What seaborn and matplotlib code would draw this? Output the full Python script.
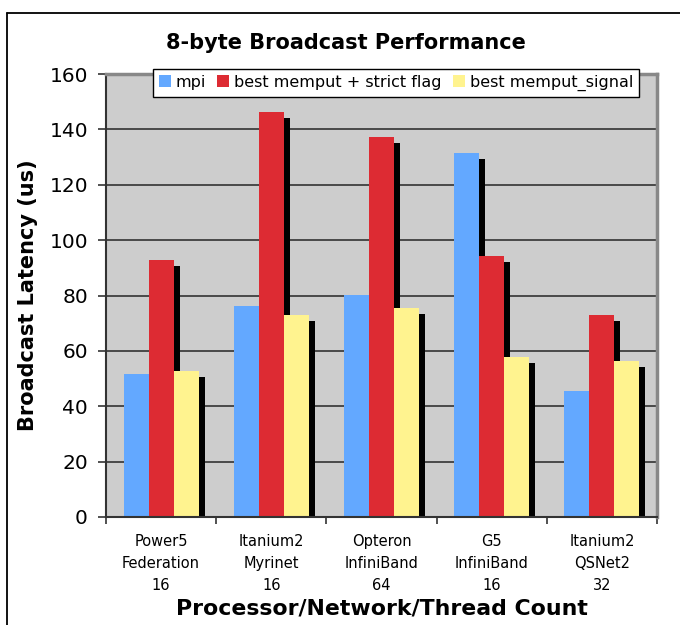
import matplotlib
matplotlib.use("Agg")
import matplotlib.pyplot as plt
import matplotlib.patheffects as pe
from matplotlib.lines import Line2D
from matplotlib.ticker import FixedLocator, MultipleLocator
import pandas as pd
import seaborn as sns

# Platforms (processor / network / thread count)
categories = [
    "Power5\nFederation\n16",
    "Itanium2\nMyrinet\n16",
    "Opteron\nInfiniBand\n64",
    "G5\nInfiniBand\n16",
    "Itanium2\nQSNet2\n32",
]
series = ["mpi", "best memput + strict flag", "best memput_signal"]

# Broadcast latency in microseconds
mpi = [51.6, 76.2, 80.1, 131.4, 45.5]
memput_strict = [92.8, 146.2, 137.2, 94.2, 72.9]
memput_signal = [52.7, 72.9, 75.5, 57.8, 56.3]

y_ticks = [0, 20, 40, 60, 80, 100, 120, 140, 160]

colors = ["#63A8FF", "#DD2B33", "#FFF38F"]

df = pd.DataFrame({
    "platform": categories * 3,
    "series": [s for s in series for _ in categories],
    "latency": mpi + memput_strict + memput_signal,
})

sns.set_theme(style="white")
plt.rcParams["font.family"] = ["DejaVu Sans"]
plt.rcParams["text.color"] = "black"
plt.rcParams["xtick.color"] = "black"
plt.rcParams["ytick.color"] = "black"
plt.rcParams["axes.labelcolor"] = "black"

fig = plt.figure(figsize=(6.8, 6.25), dpi=100)
ax = fig.add_axes([106 / 680, 1 - 517 / 625, 551 / 680, 443 / 625])
ax.set_facecolor("#CDCDCD")

sns.barplot(
    data=df, x="platform", y="latency", hue="series", order=categories,
    hue_order=series, palette=colors, saturation=1, width=0.68,
    linewidth=0, ax=ax, legend=True, errorbar=None,
)

leg = ax.legend(
    loc="center", bbox_to_anchor=(396 / 680, 1 - 83 / 625),
    bbox_transform=fig.transFigure, ncol=3, frameon=True, fancybox=False,
    fontsize=11.5, handlelength=0.75, handleheight=0.75, handletextpad=0.3,
    columnspacing=0.7, borderpad=0.35, borderaxespad=0,
)
leg.get_frame().set_edgecolor("black")
leg.get_frame().set_linewidth(1.0)
leg.get_frame().set_facecolor("white")
leg.get_frame().set_alpha(1)

# drop shadow behind every bar
for bar in ax.patches:
    bar.set_path_effects([
        pe.SimplePatchShadow(offset=(4.3, -4.3), shadow_rgbFace="black", alpha=1.0),
        pe.Normal(),
    ])

ax.set_ylim(0, 160)
ax.set_xlim(-0.5, len(categories) - 0.5)
ax.yaxis.set_major_locator(FixedLocator(y_ticks))
ax.grid(axis="y", color="#3F3F3F", linewidth=1.3)
ax.set_axisbelow(True)

ax.tick_params(axis="y", which="major", direction="out", length=6, width=1.2,
               color="#333333", labelsize=14.5, pad=7, left=True)
ax.xaxis.set_minor_locator(MultipleLocator(1, offset=0.5))
ax.tick_params(axis="x", which="minor", direction="out", length=5, width=1.2,
               color="#333333", bottom=True)
ax.tick_params(axis="x", which="major", length=0, labelsize=10.5, pad=12)
for lbl in ax.get_xticklabels():
    lbl.set_linespacing(1.6)

for side in ("left", "bottom"):
    ax.spines[side].set_color("#333333")
    ax.spines[side].set_linewidth(1.5)
for side in ("top", "right"):
    ax.spines[side].set_color("#888888")
    ax.spines[side].set_linewidth(2.5)

ax.set_xlabel("Processor/Network/Thread Count", fontsize=15.8, fontweight="bold",
              labelpad=4)
ax.set_ylabel("Broadcast Latency (us)", fontsize=15, fontweight="bold", labelpad=8)

fig.text(346 / 680, 1 - 43 / 625, "8-byte Broadcast Performance",
         ha="center", va="center", fontsize=15, fontweight="bold")

# outer chart frame (left and top edges)
fig.add_artist(Line2D([7 / 680, 7 / 680], [0, 1 - 13 / 625],
                      transform=fig.transFigure, color="black", linewidth=1.3))
fig.add_artist(Line2D([7 / 680, 1], [1 - 13 / 625, 1 - 13 / 625],
                      transform=fig.transFigure, color="black", linewidth=1.3))

fig.savefig("out.png", dpi=100, facecolor="white")
